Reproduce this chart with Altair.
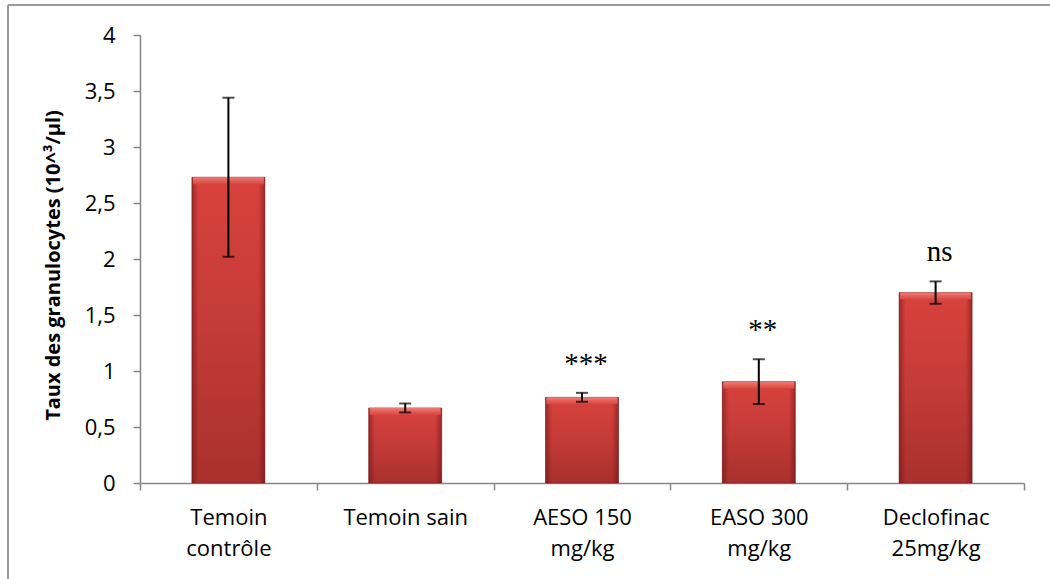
import altair as alt
import pandas as pd

# Treatment groups ("|" marks a line break in the axis label)
groups = ["Temoin|contrôle", "Temoin sain", "AESO 150|mg/kg", "EASO 300|mg/kg", "Declofinac|25mg/kg"]
means = [2.73, 0.67, 0.765, 0.905, 1.70]
errors = [0.71, 0.04, 0.04, 0.20, 0.10]
signif = ["", "", "***", "**", "ns"]

df = pd.DataFrame({"group": groups, "mean": means, "err": errors, "sig": signif})
df["lo"] = df["mean"] - df["err"]
df["hi"] = df["mean"] + df["err"]

W, H = 884, 448
BAR = 73
AXIS_GREY = "#868686"
FONT = "Open Sans"

x_enc = alt.X(
    "group:N",
    sort=groups,
    scale=alt.Scale(paddingInner=0, paddingOuter=0),
    axis=alt.Axis(
        title=None,
        labelAngle=0,
        labelExpr="split(datum.label, '|')",
        labelFont=FONT,
        labelFontSize=22,
        labelColor="black",
        labelLineHeight=31,
        labelPadding=17,
        tickBand="extent",
        tickSize=7,
        tickColor=AXIS_GREY,
        domainColor=AXIS_GREY,
        domainWidth=1.5,
        tickWidth=1.5,
    ),
)

y_axis = alt.Axis(
    title="Taux des granulocytes (10^³/µl)",
    values=[0, 0.5, 1, 1.5, 2, 2.5, 3, 3.5, 4],
    format="~g",
    labelExpr="replace(datum.label, '.', ',')",
    grid=False,
    labelFont=FONT,
    labelFontSize=22,
    labelColor="black",
    labelPadding=18,
    tickSize=7,
    tickColor=AXIS_GREY,
    domainColor=AXIS_GREY,
    domainWidth=1.5,
    tickWidth=1.5,
    titleFont=FONT,
    titleFontSize=20,
    titleFontWeight="bold",
    titleColor="black",
    titleAngle=270,
    titleAlign="center",
    titleBaseline="alphabetic",
    titleX=-81,
    titleY=230,
)
y_scale = alt.Scale(domain=[0, 4], nice=False)


def y_enc(field):
    return alt.Y(f"{field}:Q", scale=y_scale, axis=y_axis)


base = alt.Chart(df)

# Main bar body: red, darker towards the bottom
bars = base.mark_bar(
    size=BAR,
    stroke="#7a2422",
    strokeWidth=0.6,
    fill=alt.Gradient(
        gradient="linear",
        x1=0, x2=0, y1=0, y2=1,
        stops=[
            alt.GradientStop(color="#d8423e", offset=0),
            alt.GradientStop(color="#c43b37", offset=0.5),
            alt.GradientStop(color="#a8302e", offset=1),
        ],
    ),
).encode(x=x_enc, y=y_enc("mean"))

# Darker side edges for a bevelled look
edges = base.mark_bar(
    size=BAR,
    fill=alt.Gradient(
        gradient="linear",
        x1=0, x2=1, y1=0, y2=0,
        stops=[
            alt.GradientStop(color="rgba(90,10,10,0.45)", offset=0),
            alt.GradientStop(color="rgba(90,10,10,0)", offset=0.09),
            alt.GradientStop(color="rgba(90,10,10,0)", offset=0.91),
            alt.GradientStop(color="rgba(90,10,10,0.45)", offset=1),
        ],
    ),
).encode(x=x_enc, y=y_enc("mean"))

# Light strip along the top edge
top_bevel = base.mark_bar(
    size=BAR - 2,
    y2Offset=7,
    fill=alt.Gradient(
        gradient="linear",
        x1=0, x2=0, y1=0, y2=1,
        stops=[
            alt.GradientStop(color="#f07a74", offset=0),
            alt.GradientStop(color="#d8453f", offset=1),
        ],
    ),
).encode(x=x_enc, y=y_enc("mean"), y2=alt.Y2("mean"))

# Error bars
err_rule = base.mark_rule(color="black", strokeWidth=2).encode(
    x=x_enc, y=y_enc("lo"), y2=alt.Y2("hi")
)
err_top = base.mark_tick(color="black", size=12, thickness=2).encode(x=x_enc, y=y_enc("hi"))
err_bot = base.mark_tick(color="black", size=12, thickness=2).encode(x=x_enc, y=y_enc("lo"))

# Significance markers above the error bars
sig_text = base.mark_text(
    font="Liberation Serif",
    fontSize=29,
    color="black",
    baseline="alphabetic",
    dy=-20,
    dx=4,
).encode(x=x_enc, y=y_enc("hi"), text="sig:N")

# Chart frame (top and left edges)
frame_df = pd.DataFrame({"k": [0]})
frame_left = alt.Chart(frame_df).mark_rule(color="#9a9a9a", strokeWidth=2).encode(
    x=alt.value(-132), y=alt.value(-30), y2=alt.value(H + 120)
)
frame_top = alt.Chart(frame_df).mark_rule(color="#9a9a9a", strokeWidth=2).encode(
    x=alt.value(-132), x2=alt.value(W + 40), y=alt.value(-30)
)

chart = (
    alt.layer(bars, edges, top_bevel, err_rule, err_top, err_bot, sig_text, frame_left, frame_top)
    .properties(
        width=W,
        height=H,
        autosize="none",
        padding={"left": 140, "top": 35, "right": 26, "bottom": 96},
        background="white",
    )
    .configure_view(stroke=None)
)

chart.save("out.html", embed_options={"renderer": "svg", "actions": False})
